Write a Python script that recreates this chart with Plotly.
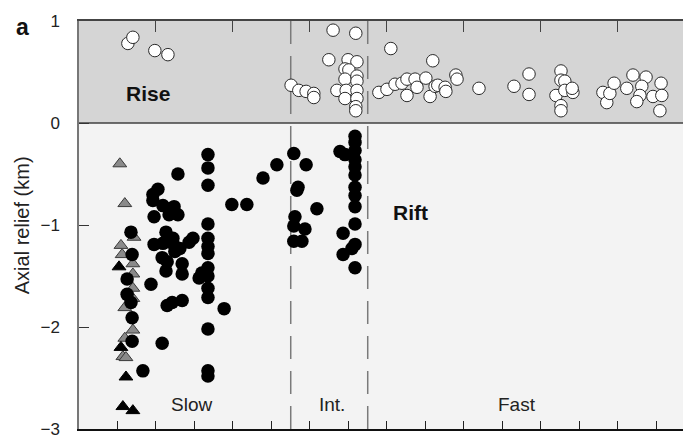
import plotly.graph_objects as go

# ---- data (spreading rate, mm/yr ; axial relief, km) ----
rise_x = [12.7, 14.0, 19.7, 23.1, 66.0, 71.9, 64.9, 69.9, 72.2, 69.1, 70.1, 69.1, 72.2, 72.2,
          67.0, 69.4, 72.2, 69.1, 72.2, 71.9, 71.9, 55.1, 57.1, 59.0, 61.0, 61.0,
          81.0, 77.9, 80.0, 82.1, 83.9, 85.2, 85.2, 87.3, 87.8, 90.1, 91.2, 91.9, 92.5, 93.2,
          95.1, 95.3, 97.9, 98.2, 103.9, 113.0, 116.9, 116.9, 125.2, 125.2, 126.2, 123.9,
          126.2, 128.3, 128.1, 125.2, 125.2, 136.1, 137.1, 137.9, 139.0, 142.3, 143.9, 147.3,
          146.2, 145.7, 144.9, 149.1, 151.2, 151.4, 150.9]
rise_y = [0.78, 0.84, 0.71, 0.67, 0.91, 0.88, 0.62, 0.62, 0.60, 0.53, 0.52, 0.43, 0.46, 0.41,
          0.32, 0.32, 0.32, 0.24, 0.24, 0.16, 0.12, 0.37, 0.32, 0.31, 0.29, 0.25,
          0.73, 0.30, 0.33, 0.38, 0.39, 0.43, 0.27, 0.43, 0.35, 0.44, 0.26, 0.61, 0.36, 0.37,
          0.35, 0.31, 0.47, 0.43, 0.34, 0.36, 0.48, 0.28, 0.51, 0.42, 0.41, 0.27,
          0.32, 0.30, 0.34, 0.17, 0.12, 0.30, 0.20, 0.29, 0.39, 0.34, 0.47, 0.45,
          0.36, 0.27, 0.21, 0.26, 0.39, 0.27, 0.12]

rift_x = [33.5, 33.5, 25.7, 33.5, 51.4, 47.8, 20.5, 19.2, 19.2, 21.8, 23.6, 24.7, 23.4, 25.7,
          19.5, 39.7, 43.6, 33.5, 22.6, 24.4, 19.5, 21.8, 24.4, 26.2, 24.9, 29.6, 28.6, 33.5,
          33.5, 33.5, 21.6, 22.9, 22.6, 26.8, 26.8, 33.5, 31.9, 31.2, 33.5, 18.7, 33.5, 33.5,
          22.9, 24.2, 26.8, 37.7, 33.5, 21.6, 16.6, 33.5, 33.5,
          13.5, 13.8, 12.5, 12.5, 13.5, 13.8, 13.8,
          55.8, 59.0, 56.9, 56.6, 61.8, 56.1, 55.8, 58.7, 55.8, 57.9,
          67.8, 69.1, 71.7, 71.7, 71.7, 71.7, 71.7, 71.7, 71.7, 71.7, 71.7, 71.7,
          68.6, 71.7, 70.9, 68.6, 71.7]
rift_y = [-0.31, -0.44, -0.50, -0.61, -0.41, -0.54, -0.65, -0.70, -0.76, -0.81, -0.84, -0.82,
          -0.90, -0.90, -0.92, -0.80, -0.80, -0.99, -1.07, -1.13, -1.19, -1.18, -1.18, -1.23,
          -1.26, -1.13, -1.17, -1.13, -1.21, -1.28, -1.32, -1.36, -1.45, -1.38, -1.48, -1.42,
          -1.47, -1.52, -1.50, -1.58, -1.62, -1.71, -1.79, -1.76, -1.74, -1.82, -2.02, -2.16,
          -2.43, -2.43, -2.48,
          -1.07, -1.29, -1.53, -1.68, -1.76, -1.91, -2.14,
          -0.30, -0.41, -0.63, -0.66, -0.84, -0.92, -1.01, -1.04, -1.16, -1.16,
          -0.28, -0.31, -0.13, -0.19, -0.27, -0.36, -0.43, -0.51, -0.63, -0.71, -0.82, -0.99,
          -1.08, -1.19, -1.23, -1.29, -1.42]

tri_gray_x = [10.6, 11.9, 14.3, 10.9, 11.2, 14.0, 14.0, 14.0, 14.0, 11.9, 14.0, 11.9, 11.4, 12.2]
tri_gray_y = [-0.40, -0.79, -1.12, -1.20, -1.29, -1.38, -1.48, -1.62, -1.72, -1.81, -2.03,
              -2.11, -2.29, -2.30]
tri_black_x = [10.4, 10.9, 12.2, 11.4, 14.0]
tri_black_y = [-1.41, -2.20, -2.49, -2.78, -2.82]

boundaries = [55, 75]
x_range = [0, 156.9]
y_ticks = [-3, -2, -1, 0, 1]
y_tick_text = ["\u22123", "\u22122", "\u22121", "0", "1"]
zone_labels = ["Slow", "Int.", "Fast"]
zone_label_x = [29.1, 65.7, 113.8]

FONT = "Liberation Sans, Arial, Helvetica, sans-serif"

fig = go.Figure()

fig.add_trace(go.Scatter(
    x=tri_gray_x, y=tri_gray_y, mode="markers",
    marker=dict(symbol="triangle-up", size=12, color="#8a8a8a",
                line=dict(color="#3a3a3a", width=1)),
    hoverinfo="skip", showlegend=False))
fig.add_trace(go.Scatter(
    x=tri_black_x, y=tri_black_y, mode="markers",
    marker=dict(symbol="triangle-up", size=12, color="#000000",
                line=dict(color="#000000", width=1)),
    hoverinfo="skip", showlegend=False))
fig.add_trace(go.Scatter(
    x=rift_x, y=rift_y, mode="markers",
    marker=dict(symbol="circle", size=13.5, color="#000000", line=dict(width=0)),
    hoverinfo="skip", showlegend=False))
fig.add_trace(go.Scatter(
    x=rise_x, y=rise_y, mode="markers",
    marker=dict(symbol="circle", size=12.5, color="#ffffff",
                line=dict(color="#2a2a2a", width=1)),
    hoverinfo="skip", showlegend=False))
# invisible trace to anchor the top tick axis
fig.add_trace(go.Scatter(x=[x_range[0]], y=[0], xaxis="x2", mode="markers",
                         marker=dict(opacity=0), hoverinfo="skip", showlegend=False))

shapes = [
    dict(type="rect", xref="paper", yref="y", x0=0, x1=1, y0=0, y1=1,
         fillcolor="#d5d5d5", line=dict(width=0), layer="below"),
    dict(type="rect", xref="paper", yref="y", x0=0, x1=1, y0=-3, y1=0,
         fillcolor="#f3f3f3", line=dict(width=0), layer="below"),
    dict(type="line", xref="paper", yref="y", x0=0, x1=1, y0=0, y1=0,
         line=dict(color="#404040", width=1.5), layer="below"),
]
for b in boundaries:
    shapes.append(dict(type="line", xref="x", yref="y", x0=b, x1=b, y0=1, y1=-3,
                       line=dict(color="#7a7a7a", width=1.5, dash="23px,12px"),
                       layer="below"))

annotations = [
    dict(text="<b>a</b>", xref="paper", yref="paper", x=-0.093, y=0.985,
         xanchor="center", yanchor="middle",
         showarrow=False, font=dict(family=FONT, size=23, color="#111")),
    dict(text="Axial relief (km)", xref="paper", yref="paper", x=-0.094, y=0.5,
         textangle=-90, showarrow=False, xanchor="center", yanchor="middle",
         font=dict(family=FONT, size=20, color="#222")),
    dict(text="<b>Rise</b>", x=17.9, y=0.29, showarrow=False,
         xanchor="center", yanchor="middle",
         font=dict(family=FONT, size=21, color="#111")),
    dict(text="<b>Rift</b>", x=86.0, y=-0.88, showarrow=False,
         xanchor="center", yanchor="middle",
         font=dict(family=FONT, size=21, color="#111")),
]
for lab, lx in zip(zone_labels, zone_label_x):
    annotations.append(dict(text=lab, x=lx, y=-2.76, showarrow=False,
                            xanchor="center", yanchor="middle",
                            font=dict(family=FONT, size=19, color="#222")))

fig.update_layout(
    width=683, height=439,
    margin=dict(l=79, r=0, t=21, b=4),
    paper_bgcolor="white", plot_bgcolor="white",
    font=dict(family=FONT, size=17, color="#222"),
    shapes=shapes, annotations=annotations,
    xaxis=dict(range=x_range, showticklabels=False, ticks="inside", tick0=0, dtick=10,
               ticklen=8, tickwidth=1.2, tickcolor="#222", showline=True,
               linecolor="#111", linewidth=2, showgrid=False, zeroline=False),
    xaxis2=dict(range=x_range, overlaying="x", side="top", anchor="y",
                showticklabels=False, ticks="inside", tick0=0, dtick=20,
                ticklen=11, tickwidth=1.2, tickcolor="#444", showline=True,
                linecolor="#444", linewidth=1.5, showgrid=False, zeroline=False),
    yaxis=dict(range=[-3, 1], tickvals=y_ticks, ticktext=y_tick_text,
               ticks="inside", ticklen=10, tickwidth=1.2, tickcolor="#333",
               showline=True, linecolor="#777", linewidth=1.5, showgrid=False,
               zeroline=False, ticklabelstandoff=14, ticklabeloverflow="allow",
               tickfont=dict(family=FONT, size=17, color="#222")),
)

fig.write_html("out.html")
